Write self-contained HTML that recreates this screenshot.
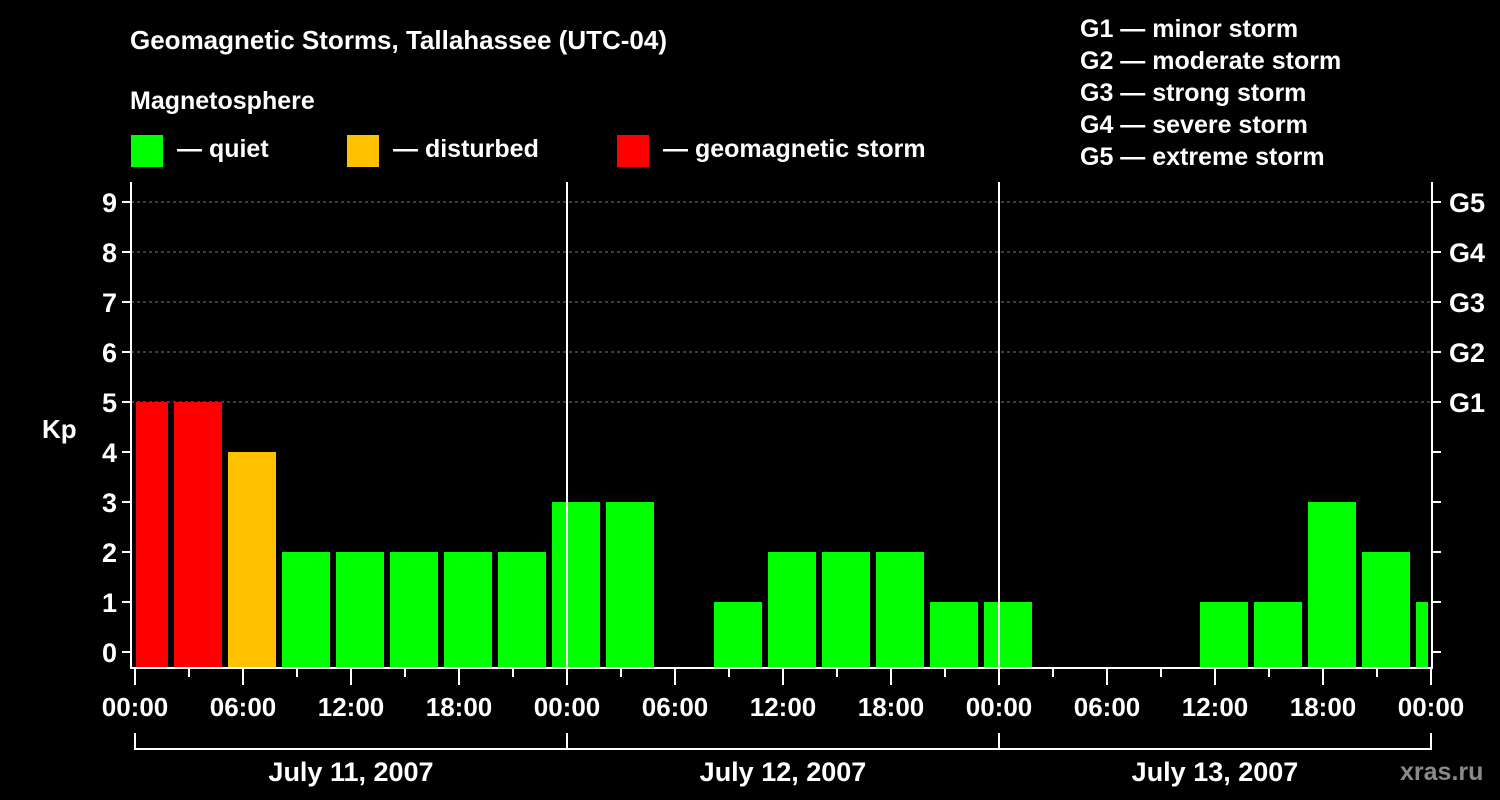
<!DOCTYPE html>
<html><head><meta charset="utf-8"><style>
html,body{margin:0;padding:0;background:#000;}
svg{display:block;}
text{font-family:"Liberation Sans",Arial,sans-serif;font-weight:bold;fill:#fff;}
</style></head><body>
<svg id="chart" width="1500" height="800" viewBox="0 0 1500 800">
<text x="130" y="49" font-size="26">Geomagnetic Storms, Tallahassee (UTC-04)</text>
<text x="130" y="109" font-size="25">Magnetosphere</text>
<g><rect x="131" y="135" width="32" height="32" fill="#00ff00"/><text x="177" y="157" font-size="25">— quiet</text></g>
<g><rect x="347" y="135" width="32" height="32" fill="#ffc000"/><text x="393" y="157" font-size="25">— disturbed</text></g>
<g><rect x="617" y="135" width="32" height="32" fill="#ff0000"/><text x="663" y="157" font-size="25">— geomagnetic storm</text></g>
<g font-size="25">
<text x="1080" y="37">G1 — minor storm</text>
<text x="1080" y="69">G2 — moderate storm</text>
<text x="1080" y="101">G3 — strong storm</text>
<text x="1080" y="133">G4 — severe storm</text>
<text x="1080" y="165">G5 — extreme storm</text>
</g>
<g id="grid"></g>
<g id="bars"></g>
<g id="axes"></g>
<text x="42" y="438" font-size="26">Kp</text>
<text x="1400" y="780" font-size="25" fill="#888" style="fill:#8a8a8a">xras.ru</text>
</svg>
<script>
const kpValues=[5,5,4,2,2,2,2,2,3,3,0,1,2,2,2,1,1,0,0,0,1,1,3,2,1];
const yTicks=[0,1,2,3,4,5,6,7,8,9];
const gLabels=["G1","G2","G3","G4","G5"];
const xTickLabels=["00:00","06:00","12:00","18:00","00:00","06:00","12:00","18:00","00:00","06:00","12:00","18:00","00:00"];
const dayLabels=["July 11, 2007","July 12, 2007","July 13, 2007"];
const binStartHour=-1; // first bin starts at 23:00 local previous day
const NS="http://www.w3.org/2000/svg";
const X0=135,PX_PER_H=18,Y0=652,PX_PER_KP=50,PLOT_TOP=182,PLOT_BOT=668,PLOT_L=131,PLOT_R=1432;
function xs(h){return X0+h*PX_PER_H;}
function ys(k){return Y0-k*PX_PER_KP;}
function mk(tag,attrs,parent){const e=document.createElementNS(NS,tag);for(const k in attrs)e.setAttribute(k,attrs[k]);parent.appendChild(e);return e;}
const grid=document.getElementById('grid'),bars=document.getElementById('bars'),axes=document.getElementById('axes');
yTicks.forEach(k=>{if(k>=5){const l=mk('line',{x1:PLOT_L,x2:PLOT_R,y1:ys(k),y2:ys(k),stroke:'#777','stroke-dasharray':'3,3','stroke-width':1},grid);

}});
function color(k){return k>=5?'#ff0000':(k>=4?'#ffc000':'#00ff00');}
const clipL=136,clipR=1428;
kpValues.forEach((k,i)=>{if(k<=0)return;const hs=binStartHour+3*i;let x1=xs(hs)+3,x2=xs(hs+3)-3;x1=Math.max(x1,clipL);x2=Math.min(x2,clipR);if(x2<=x1)return;
const r=mk('rect',{x:x1,y:ys(k),width:x2-x1,height:PLOT_BOT-ys(k),fill:color(k)},bars);

});
// frame
const fr=mk('path',{d:`M${PLOT_L} ${PLOT_TOP}V${PLOT_BOT}H${PLOT_R}V${PLOT_TOP}`,stroke:'#fff','stroke-width':2,fill:'none'},axes);


[1,2].forEach(d=>{const l=mk('line',{x1:xs(24*d),x2:xs(24*d),y1:PLOT_TOP,y2:PLOT_BOT,stroke:'#fff','stroke-width':2},axes);

});
yTicks.forEach(k=>{const y=ys(k);
const t=mk('line',{x1:PLOT_L-9,x2:PLOT_L,y1:y,y2:y,stroke:'#fff','stroke-width':2},axes);


const t2=mk('line',{x1:PLOT_R,x2:PLOT_R+9,y1:y,y2:y,stroke:'#fff','stroke-width':2},axes);


const tx=mk('text',{x:PLOT_L-14,y:y+10,'font-size':27,'text-anchor':'end'},axes);tx.textContent=k;


if(k>=5){const g=mk('text',{x:PLOT_R+17,y:y+10,'font-size':27},axes);g.textContent=gLabels[k-5];

}});
for(let h=0;h<=72;h+=3){const major=h%6===0;
const t=mk('line',{x1:xs(h),x2:xs(h),y1:PLOT_BOT,y2:PLOT_BOT+(major?17:9),stroke:'#fff','stroke-width':2},axes);

}
xTickLabels.forEach((s,i)=>{const tx=mk('text',{x:xs(6*i),y:716,'font-size':26,'text-anchor':'middle'},axes);tx.textContent=s;

});
dayLabels.forEach((s,d)=>{const p=mk('path',{d:`M${xs(24*d)} 733V749H${xs(24*d+24)}V733`,stroke:'#fff','stroke-width':2,fill:'none'},axes);


const tx=mk('text',{x:xs(24*d+12),y:781,'font-size':27,'text-anchor':'middle'},axes);tx.textContent=s;

});
</script>
</body></html>
